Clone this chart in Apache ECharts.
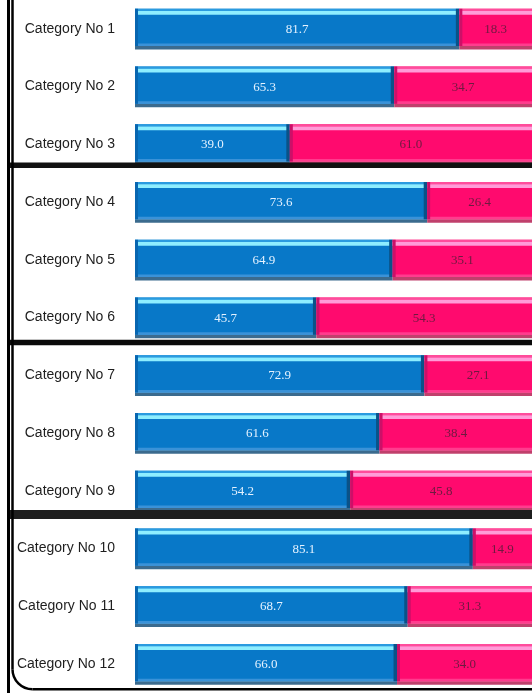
<!DOCTYPE html>
<html>
<head>
<meta charset="utf-8">
<script src="https://cdn.jsdelivr.net/npm/echarts@6/dist/echarts.min.js"></script>
<style>
  html, body { margin: 0; padding: 0; background: #ffffff; }
  #chart { width: 532px; height: 693px; }
</style>
</head>
<body>
<div id="chart"></div>
<script>
// Share of each category, split into two parts (percent)
const categories = [
  'Category No 1', 'Category No 2', 'Category No 3',
  'Category No 4', 'Category No 5', 'Category No 6',
  'Category No 7', 'Category No 8', 'Category No 9',
  'Category No 10', 'Category No 11', 'Category No 12'
];
const blueValues = [81.7, 65.3, 39.0, 73.6, 64.9, 45.7, 72.9, 61.6, 54.2, 85.1, 68.7, 66.0];
const pinkValues = [18.3, 34.7, 61.0, 26.4, 35.1, 54.3, 27.1, 38.4, 45.8, 14.9, 31.3, 34.0];

// Rows after which a group divider is drawn
const groupEnds = [2, 5, 8];

const palettes = {
  blue: {
    main: '#0878c8', rim: '#2a9be0', hi: '#8eeeff', low: '#3a92d8',
    shadow: '#3b6b8e', leftEdge: '#0866b0', rightEdge: '#0a5288', label: '#e4f2ff'
  },
  pink: {
    main: '#ff0a6e', rim: '#ff4c9c', hi: '#ff9bd8', low: '#ff3c8e',
    shadow: '#c0406c', leftEdge: '#cc1068', rightEdge: null, label: '#6e1a40'
  }
};

function segmentRenderer(kind) {
  const pal = palettes[kind];
  return function (params, api) {
    const cat = api.value(0);
    const x0 = api.value(1);
    const x1 = api.value(2);
    const val = api.value(3);
    const p0 = api.coord([x0, cat]);
    const p1 = api.coord([x1, cat]);
    const band = api.size([0, 1])[1];
    const h = band * 0.645;
    const top = p0[1] - band * 0.348;
    const left = p0[0];
    const w = p1[0] - p0[0];
    const children = [
      { type: 'rect', shape: { x: left, y: top + h, width: w, height: 3.4 }, style: { fill: pal.shadow } },
      { type: 'rect', shape: { x: left, y: top, width: w, height: h }, style: { fill: pal.main } },
      { type: 'rect', shape: { x: left, y: top, width: w, height: 2.3 }, style: { fill: pal.rim } },
      { type: 'rect', shape: { x: left, y: top + 2.3, width: w, height: 3.7 }, style: { fill: pal.hi } },
      { type: 'rect', shape: { x: left, y: top + h - 2.6, width: w, height: 2.6 }, style: { fill: pal.low } },
      { type: 'rect', shape: { x: left, y: top, width: 3, height: h }, style: { fill: pal.leftEdge } }
    ];
    if (pal.rightEdge) {
      children.push({ type: 'rect', shape: { x: left + w - 3.5, y: top, width: 3.5, height: h }, style: { fill: pal.rightEdge } });
    }
    children.push({
      type: 'text',
      style: {
        text: val.toFixed(1),
        x: left + w / 2,
        y: p0[1] + 0.5,
        align: 'center',
        verticalAlign: 'middle',
        fill: pal.label,
        font: '13px "Liberation Serif", serif'
      }
    });
    return { type: 'group', children: children };
  };
}

const blueData = blueValues.map((v, i) => [i, 0, v, v]);
const pinkData = pinkValues.map((v, i) => [i, blueValues[i], blueValues[i] + v, v]);

const chart = echarts.init(document.getElementById('chart'), null, { renderer: 'canvas' });

chart.setOption({
  backgroundColor: '#ffffff',
  animation: false,
  grid: { left: 135, right: -1, top: -2, bottom: -4, containLabel: false },
  xAxis: {
    type: 'value', min: 0, max: 100,
    show: false
  },
  yAxis: {
    type: 'category',
    data: categories,
    inverse: true,
    axisLine: { show: false },
    axisTick: { show: false },
    splitLine: { show: false },
    axisLabel: {
      margin: 20,
      fontSize: 14,
      color: '#1e1e1e',
      fontFamily: '"Liberation Sans", sans-serif'
    }
  },
  series: [
    {
      name: 'Part A', type: 'custom', data: blueData,
      encode: { x: [1, 2], y: 0 },
      renderItem: segmentRenderer('blue'), clip: false
    },
    {
      name: 'Part B', type: 'custom', data: pinkData,
      encode: { x: [1, 2], y: 0 },
      renderItem: segmentRenderer('pink'), clip: false
    }
  ]
});

// Frame and group dividers, placed from the category axis positions
const rowY = i => chart.convertToPixel({ yAxisIndex: 0 }, i);
const bandH = rowY(1) - rowY(0);
const H = 693, W = 532;
const dividerStyle = [
  { dy: 0.36, lw: 5.5, color: '#111111' },
  { dy: 0.43, lw: 5.5, color: '#0a0a0a' },
  { dy: 0.41, lw: 9, color: '#1e1e1e' }
];
const graphics = [];
groupEnds.forEach((row, k) => {
  const s = dividerStyle[k];
  const y = rowY(row) + bandH * s.dy;
  graphics.push({
    type: 'line', z: 100,
    shape: { x1: 10, y1: y, x2: W, y2: y },
    style: { stroke: s.color, lineWidth: s.lw }
  });
});
const r = 20, ix = 12.5, by = 689.3;
const frameStroke = { stroke: '#000000', lineWidth: 2.5, fill: null };
graphics.push({
  type: 'rect', z: 100,
  shape: { x: 7, y: 0, width: 3, height: H },
  style: { fill: '#000000' }
});
graphics.push({
  type: 'line', z: 100,
  shape: { x1: ix, y1: 0, x2: ix, y2: by - r },
  style: frameStroke
});
graphics.push({
  type: 'arc', z: 100,
  shape: { cx: ix + r, cy: by - r, r: r, startAngle: Math.PI / 2, endAngle: Math.PI, clockwise: true },
  style: frameStroke
});
graphics.push({
  type: 'line', z: 100,
  shape: { x1: ix + r, y1: by, x2: W, y2: by },
  style: frameStroke
});
chart.setOption({ graphic: graphics });
</script>
</body>
</html>
